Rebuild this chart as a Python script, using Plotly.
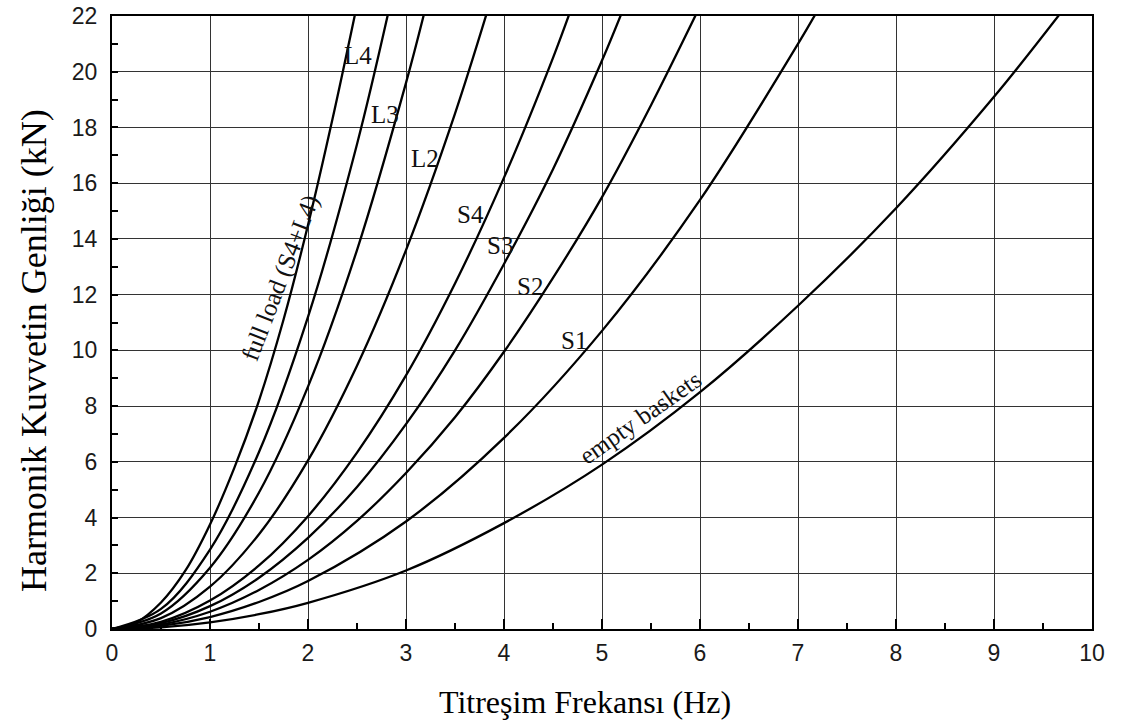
import plotly.graph_objects as go

# Harmonic force amplitude (kN) against vibration frequency (Hz), one curve per load case
full_load_f = [0, 0.25, 0.5, 0.75, 1.0, 1.25, 1.5, 1.75, 2.0, 2.25, 2.5]
full_load_F = [0, 0.24, 0.95, 2.1, 3.75, 5.8, 8.2, 11.1, 14.5, 18.3, 22.4]

l4_f = [0, 0.5, 1.0, 1.5, 2.0, 2.5, 2.85]
l4_F = [0, 0.72, 2.85, 6.35, 11.2, 17.4, 22.6]

l3_f = [0, 0.5, 1.0, 1.5, 2.0, 2.5, 3.0, 3.2]
l3_F = [0, 0.56, 2.2, 4.9, 8.7, 13.6, 19.6, 22.3]

l2_f = [0, 0.5, 1.0, 1.5, 2.0, 2.5, 3.0, 3.5, 3.85]
l2_F = [0, 0.39, 1.52, 3.4, 6.05, 9.45, 13.6, 18.5, 22.4]

s4_f = [0, 0.5, 1.0, 1.5, 2.0, 2.5, 3.0, 3.5, 4.0, 4.5, 4.7]
s4_F = [0, 0.26, 1.02, 2.28, 4.05, 6.33, 9.1, 12.4, 16.2, 20.5, 22.4]

s3_f = [0, 0.5, 1.0, 1.5, 2.0, 2.5, 3.0, 3.5, 4.0, 4.5, 5.0, 5.2]
s3_F = [0, 0.21, 0.82, 1.84, 3.27, 5.1, 7.35, 10.0, 13.1, 16.5, 20.4, 22.1]

s2_f = [0, 0.5, 1.0, 1.5, 2.0, 2.5, 3.0, 3.5, 4.0, 4.5, 5.0, 5.5, 6.0]
s2_F = [0, 0.16, 0.62, 1.4, 2.48, 3.88, 5.6, 7.6, 9.95, 12.6, 15.5, 18.8, 22.35]

s1_f = [0, 0.5, 1.0, 1.5, 2.0, 3.0, 4.0, 5.0, 6.0, 7.0, 7.2]
s1_F = [0, 0.11, 0.43, 0.97, 1.72, 3.86, 6.86, 10.7, 15.4, 21.0, 22.2]

empty_f = [0, 0.5, 1.0, 1.5, 2.0, 3.0, 4.0, 5.0, 6.0, 7.0, 8.0, 9.0, 9.7]
empty_F = [0, 0.06, 0.24, 0.53, 0.94, 2.1, 3.8, 5.9, 8.5, 11.6, 15.1, 19.1, 22.2]

curves = [
    (full_load_f, full_load_F),
    (l4_f, l4_F),
    (l3_f, l3_F),
    (l2_f, l2_F),
    (s4_f, s4_F),
    (s3_f, s3_F),
    (s2_f, s2_F),
    (s1_f, s1_F),
    (empty_f, empty_F),
]

# Curve labels: text, frequency, force, angle
label_text = ["L4", "L3", "L2", "S4", "S3", "S2", "S1", "empty baskets", "full load (S4+L4)"]
label_f = [2.51, 2.79, 3.19, 3.66, 3.96, 4.27, 4.71, 5.39, 1.72]
label_F = [20.6, 18.45, 16.9, 14.86, 13.78, 12.28, 10.37, 7.6, 12.6]
label_angle = [0, 0, 0, 0, 0, 0, 0, -35, -69]
label_size = [25, 25, 25, 25, 25, 25, 25, 25, 25]

x_ticks = list(range(0, 11))
y_ticks = list(range(0, 23, 2))

fig = go.Figure()
for fx, fy in curves:
    fig.add_trace(go.Scatter(
        x=fx, y=fy, mode="lines",
        line=dict(color="black", width=2.3, shape="spline", smoothing=1.0),
        showlegend=False, hoverinfo="skip",
    ))

serif = "Liberation Serif, Times New Roman, serif"
sans = "Liberation Sans, Arial, sans-serif"

annotations = []
for t, fx, fy, ang, sz in zip(label_text, label_f, label_F, label_angle, label_size):
    annotations.append(dict(
        x=fx, y=fy, xref="x", yref="y", text=t, showarrow=False,
        textangle=ang, font=dict(family=serif, size=sz, color="#111"),
        xanchor="center", yanchor="middle",
    ))

annotations.append(dict(
    x=0.4827, y=-0.119, xref="paper", yref="paper",
    text="Titreşim Frekansı (Hz)", showarrow=False,
    font=dict(family=serif, size=32, color="black"),
    xanchor="center", yanchor="middle",
))
annotations.append(dict(
    x=-0.0796, y=0.455, xref="paper", yref="paper",
    text="Harmonik Kuvvetin Genliği (kN)", showarrow=False, textangle=-90,
    font=dict(family=serif, size=36, color="black"),
    xanchor="center", yanchor="middle",
))

fig.update_layout(
    width=1122, height=726,
    margin=dict(l=112, r=30, t=16, b=97),
    paper_bgcolor="white", plot_bgcolor="white",
    annotations=annotations,
    xaxis=dict(
        range=[0, 10], tickvals=x_ticks, ticktext=[str(v) for v in x_ticks],
        showgrid=True, gridcolor="#333333", gridwidth=1.3,
        zeroline=False, showline=True, linecolor="black", linewidth=2, mirror=True,
        ticks="inside", ticklen=10, tickwidth=1.5, tickcolor="black",
        minor=dict(dtick=0.5, ticks="inside", ticklen=6, tickwidth=1.5,
                   tickcolor="black", showgrid=False),
        tickfont=dict(family=sans, size=23, color="#1a1a1a"),
        ticklabelstandoff=2, automargin=False,
    ),
    yaxis=dict(
        range=[0, 22], tickvals=y_ticks, ticktext=[str(v) for v in y_ticks],
        showgrid=True, gridcolor="#333333", gridwidth=1.3,
        zeroline=False, showline=True, linecolor="black", linewidth=2, mirror=True,
        ticks="inside", ticklen=6, tickwidth=1.5, tickcolor="black",
        minor=dict(dtick=1, ticks="inside", ticklen=6, tickwidth=1.5,
                   tickcolor="black", showgrid=False),
        tickfont=dict(family=sans, size=23, color="#1a1a1a"),
        ticklabelstandoff=8, automargin=False,
    ),
)

fig.write_html("out.html")
